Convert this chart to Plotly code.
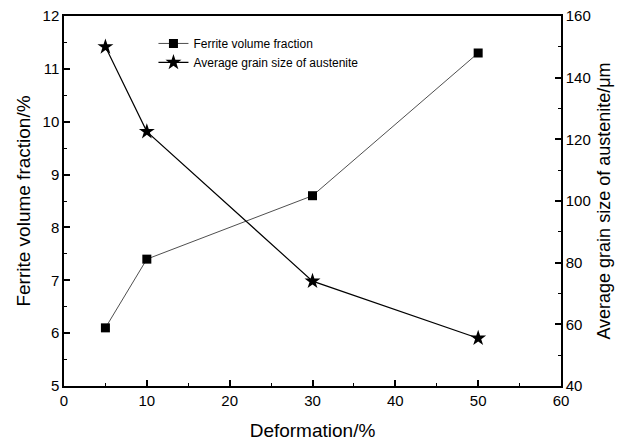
import plotly.graph_objects as go

deformation = [5, 10, 30, 50]
ferrite_fraction = [6.1, 7.4, 8.6, 11.3]
grain_size = [150, 122.5, 74, 55.5]

font = "Liberation Sans, Arial, sans-serif"

fig = go.Figure()
fig.add_trace(go.Scatter(
    x=deformation, y=ferrite_fraction, name="Ferrite volume fraction",
    mode="lines+markers", line=dict(color="#222", width=0.8),
    marker=dict(symbol="square", size=9, color="#000"), yaxis="y"))
fig.add_trace(go.Scatter(
    x=deformation, y=grain_size, name="Average grain size of austenite",
    mode="lines+markers", line=dict(color="#000", width=1.2),
    marker=dict(symbol="star", size=12, color="#000"), yaxis="y2"))

axis_common = dict(showgrid=False, zeroline=False, showline=True, linecolor="#000",
                   linewidth=1.5, ticks="inside", ticklen=6, tickwidth=1.5, tickcolor="#000",
                   automargin=False,
                   tickfont=dict(family=font, size=15, color="#000"))

fig.update_layout(
    width=620, height=441,
    margin=dict(l=64, r=59, t=16, b=55),
    paper_bgcolor="white", plot_bgcolor="white",
    font=dict(family=font, color="#000"),
    xaxis=dict(range=[0, 60], dtick=10, tick0=0,
               minor=dict(dtick=5, ticks="inside", ticklen=3, tickwidth=1.2, tickcolor="#000"),
               title=dict(text="Deformation/%", font=dict(family=font, size=19), standoff=17),
               mirror=True, **axis_common),
    yaxis=dict(range=[5, 12], dtick=1,
               minor=dict(dtick=0.5, ticks="inside", ticklen=3, tickwidth=1.2, tickcolor="#000"),
               title=dict(text="Ferrite volume fraction/%", font=dict(family=font, size=19), standoff=7),
               **axis_common),
    yaxis2=dict(range=[40, 160], dtick=20, overlaying="y", side="right",
                minor=dict(dtick=10, ticks="inside", ticklen=3, tickwidth=1.2, tickcolor="#000"),
                title=dict(text="Average grain size of austenite/\u03bcm", font=dict(family=font, size=18), standoff=8),
                **axis_common),
    legend=dict(x=0.18, y=0.965, xanchor="left", yanchor="top", bgcolor="rgba(0,0,0,0)",
                font=dict(family=font, size=12), itemwidth=30, tracegroupgap=0),
    showlegend=True,
)

fig.write_html("out.html")
